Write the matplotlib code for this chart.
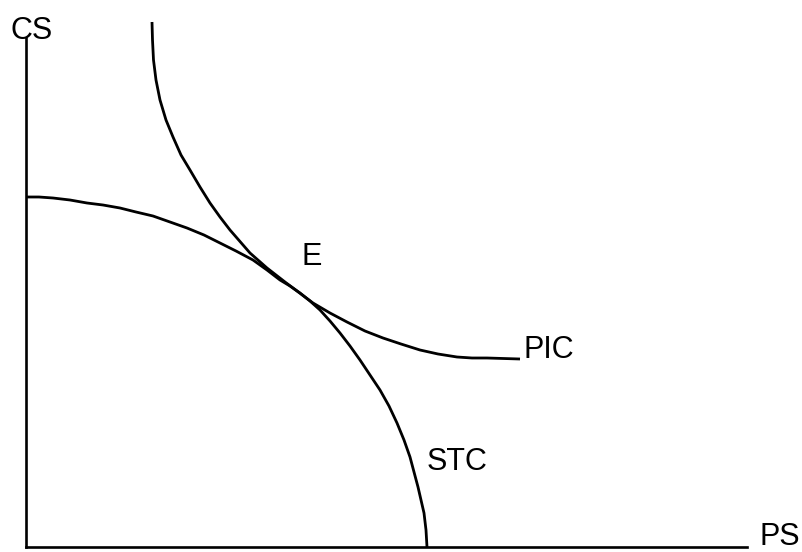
import matplotlib
matplotlib.use('Agg')
import matplotlib.pyplot as plt


# curve points (x to the right, y upward, from the origin)
stc_x = [0, 13, 27, 44, 61, 77, 94, 110, 127, 144, 161, 178, 194, 210, 227, 241,
         254, 264, 274, 284, 294, 304, 314, 324, 334, 344, 354, 363, 371, 378,
         384, 388, 392, 395, 398, 400, 401]
stc_y = [350, 350, 349, 347, 344, 342, 339, 335, 331, 325, 319, 312, 304, 296, 287, 277,
         267, 261, 254, 246, 237, 226, 214, 201, 187, 172, 157, 141, 124, 107,
         90, 75, 60, 47, 34, 17, 0]

pic_x = [126, 126.5, 127.5, 130, 134, 140, 147, 155, 164, 174, 184, 194, 204, 224,
         241, 259, 287, 304, 321, 339, 357, 375, 394, 412, 431, 446, 461, 494]
pic_y = [525, 507, 487, 467, 447, 427, 410, 392, 377, 360, 344, 330, 317, 294,
         279, 265, 244, 234, 225, 216, 209, 203, 197, 193, 190, 189, 189, 188]

# labels: (text, x, y) in the same units
labels = [
    ('E', 275, 282),
    ('PIC', 497, 189),
    ('STC', 401, 77),
]


def main():

    W, H = 802, 552
    fig = plt.figure(figsize = (W / 100, H / 100), dpi = 100)

    # axes box in pixels: left spine at x=26, bottom spine at y=547
    left, right, top, bottom = 26, 747, 38, 547
    ax = fig.add_axes([left / W, (H - bottom) / H, (right - left) / W, (bottom - top) / H])

    ax.set_xlim(0, right - left)
    ax.set_ylim(0, bottom - top)

    for s in ['top', 'right']:
        ax.spines[s].set_visible(False)
    for s in ['left', 'bottom']:
        ax.spines[s].set_linewidth(1.9)
        ax.spines[s].set_color('black')
    ax.set_xticks([])
    ax.set_yticks([])

    ax.plot(stc_x, stc_y, color = 'black', lw = 2.0, solid_capstyle = 'butt',
            solid_joinstyle = 'round', clip_on = False)
    ax.plot(pic_x, pic_y, color = 'black', lw = 2.0, solid_capstyle = 'butt',
            solid_joinstyle = 'round', clip_on = False)

    font = dict(family = 'Liberation Sans', size = 22, color = 'black')

    for txt, x, y in labels:
        ax.text(x, y, txt, ha = 'left', va = 'baseline', clip_on = False, **font)

    # axis names
    fig.text(10 / W, 1 - 39 / H, 'CS', ha = 'left', va = 'baseline', **font)
    fig.text(760 / W, 1 - 545 / H, 'PS', ha = 'left', va = 'baseline', **font)

    fig.savefig('out.png', dpi = 100, facecolor = 'white')


if __name__ == "__main__":
    main()
